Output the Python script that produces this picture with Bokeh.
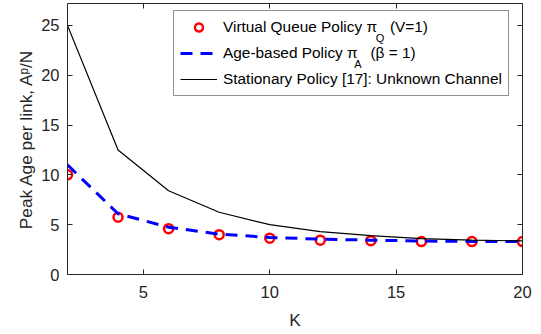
from bokeh.plotting import figure
from bokeh.models import (Range1d, FixedTicker, LinearAxis, Legend, LegendItem,
                          Label, CustomJSTickFormatter)
from bokeh.embed import file_html
from bokeh.resources import INLINE

# ---- data ----
K = [2, 4, 6, 8, 10, 12, 14, 16, 18, 20]
virtual_queue = [10.0, 5.75, 4.6, 4.0, 3.65, 3.45, 3.4, 3.3, 3.3, 3.3]
age_based = [11.0, 6.1, 4.75, 4.05, 3.72, 3.55, 3.45, 3.36, 3.32, 3.3]
stationary = [25.0, 12.5, 8.4, 6.25, 5.0, 4.3, 3.9, 3.6, 3.45, 3.37]

x_ticks = [5, 10, 15, 20]
y_ticks = [0, 5, 10, 15, 20, 25]

labels = ["Virtual Queue Policy \u03c0   (V=1)",
          "Age-based Policy \u03c0   (\u03b2 = 1)",
          "Stationary Policy [17]: Unknown Channel"]
subscripts = ["Q", "A"]

FONT = "Liberation Sans"
AX = "#262626"

p = figure(width=541, height=334, x_range=Range1d(2, 20), y_range=Range1d(0, 27.2),
           output_backend="svg", toolbar_location=None,
           min_border_left=67, min_border_right=19, min_border_top=3, min_border_bottom=60)
p.grid.visible = False
p.outline_line_color = None
p.background_fill_color = "white"
p.border_fill_color = "white"

r1 = p.scatter(K, virtual_queue, marker="circle", size=9, line_color="red",
               line_width=2.5, fill_color=None)
r2 = p.line(K, age_based, line_color="blue", line_width=3, line_dash="12 8")
r3 = p.line(K, stationary, line_color="black", line_width=1.2)


def style(ax, show_labels=True):
    ax.axis_line_color = AX
    ax.major_tick_line_color = AX
    ax.major_tick_in = 5
    ax.major_tick_out = 0
    ax.minor_tick_line_color = None
    ax.major_label_text_font = FONT
    ax.major_label_text_font_size = "16.5px"
    ax.major_label_text_color = AX
    ax.axis_label_text_font = FONT
    ax.axis_label_text_font_size = "17.3px"
    ax.axis_label_text_font_style = "normal"
    ax.axis_label_text_color = AX
    if not show_labels:
        ax.formatter = CustomJSTickFormatter(code="return ''")
        ax.major_label_standoff = 0


xa = p.xaxis[0]
xa.ticker = FixedTicker(ticks=x_ticks)
xa.axis_label = "K"
style(xa)
xa.major_label_standoff = 11
xa.axis_label_standoff = 9

ya = p.yaxis[0]
ya.ticker = FixedTicker(ticks=y_ticks)
ya.axis_label = "Peak Age per link, A\u1d56/N"
style(ya)
ya.major_label_standoff = 8
ya.axis_label_standoff = 2

top = LinearAxis(ticker=FixedTicker(ticks=x_ticks))
style(top, False)
p.add_layout(top, "above")
right = LinearAxis(ticker=FixedTicker(ticks=y_ticks))
style(right, False)
p.add_layout(right, "right")

# subscripts of the legend's pi symbols (data-space anchors inside the legend box)
for txt, dx, dy in [(subscripts[0], 14.36, 23.69), (subscripts[1], 13.49, 21.08)]:
    p.add_layout(Label(x=dx, y=dy, text=txt,
                       text_font=FONT, text_font_size="11px", text_color="black",
                       text_align="center", text_baseline="middle"))

legend = Legend(items=[LegendItem(label=labels[0], renderers=[r1]),
                       LegendItem(label=labels[1], renderers=[r2]),
                       LegendItem(label=labels[2], renderers=[r3])],
                location=(106, 178))
legend.label_text_font = FONT
legend.label_text_font_size = "15.4px"
legend.label_text_color = "black"
legend.label_height = 20
legend.glyph_height = 20
legend.glyph_width = 37
legend.label_standoff = 6
legend.padding = 6
legend.spacing = 6
legend.margin = 0
legend.border_line_color = AX
legend.border_line_width = 1
legend.background_fill_alpha = 0
p.add_layout(legend)

open("out.html", "w").write(file_html(p, INLINE))
